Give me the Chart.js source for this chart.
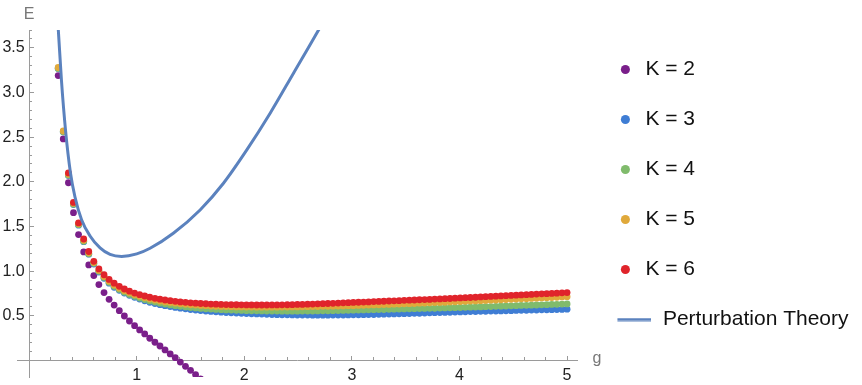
<!DOCTYPE html>
<html>
<head>
<meta charset="utf-8">
<script src="https://cdn.jsdelivr.net/npm/chart.js@4.4.1/dist/chart.umd.min.js"></script>
<style>
  body { margin: 0; background: #fff; }
  canvas { display: block; }
</style>
</head>
<body>
<canvas id="c" width="862" height="385"></canvas>
<script>
// coupling values g (same grid for every K)
const gVals = [
  0.270, 0.317, 0.365, 0.412, 0.459, 0.507, 0.554, 0.601, 0.648, 0.696,
  0.743, 0.790, 0.838, 0.885, 0.932, 0.980, 1.027, 1.074, 1.121, 1.169,
  1.216, 1.263, 1.311, 1.358, 1.405, 1.453, 1.500, 1.547, 1.594, 1.642,
  1.689, 1.736, 1.784, 1.831, 1.878, 1.926, 1.973, 2.020, 2.067, 2.115,
  2.162, 2.209, 2.257, 2.304, 2.351, 2.399, 2.446, 2.493, 2.540, 2.588,
  2.635, 2.682, 2.730, 2.777, 2.824, 2.872, 2.919, 2.966, 3.013, 3.061,
  3.108, 3.155, 3.203, 3.250, 3.297, 3.345, 3.392, 3.439, 3.486, 3.534,
  3.581, 3.628, 3.676, 3.723, 3.770, 3.818, 3.865, 3.912, 3.959, 4.007,
  4.054, 4.101, 4.149, 4.196, 4.243, 4.291, 4.338, 4.385, 4.432, 4.480,
  4.527, 4.574, 4.622, 4.669, 4.716, 4.764, 4.811, 4.858, 4.905, 4.953,
  5.000
];

const eK2 = [
  3.19, 2.48, 1.99, 1.655, 1.41, 1.215, 1.07, 0.95, 0.85, 0.76,
  0.685, 0.62, 0.558, 0.498, 0.442, 0.39, 0.342, 0.297, 0.249, 0.204,
  0.162, 0.118, 0.073, 0.031, -0.018, -0.065, -0.11, -0.158, -0.205
];

const eK3 = [
  3.27, 2.56, 2.07, 1.745, 1.515, 1.33, 1.19, 1.08, 0.99, 0.92,
  0.865, 0.82, 0.785, 0.755, 0.73, 0.707, 0.687, 0.668, 0.652, 0.638,
  0.625, 0.613, 0.603, 0.594, 0.586, 0.578, 0.571, 0.565, 0.559, 0.554,
  0.549, 0.545, 0.541, 0.537, 0.534, 0.531, 0.528, 0.525, 0.523, 0.521,
  0.519, 0.517, 0.515, 0.513, 0.512, 0.511, 0.51, 0.509, 0.508, 0.508,
  0.507, 0.507, 0.507, 0.507, 0.508, 0.508, 0.509, 0.51, 0.511, 0.512,
  0.513, 0.514, 0.515, 0.517, 0.518, 0.52, 0.521, 0.523, 0.524, 0.526,
  0.528, 0.529, 0.531, 0.533, 0.535, 0.537, 0.538, 0.54, 0.542, 0.544,
  0.545, 0.547, 0.548, 0.55, 0.551, 0.553, 0.554, 0.555, 0.557, 0.558,
  0.56, 0.561, 0.562, 0.564, 0.565, 0.567, 0.568, 0.569, 0.571, 0.572,
  0.574
];

const eK4 = [
  3.27, 2.56, 2.075, 1.75, 1.52, 1.335, 1.195, 1.088, 0.998, 0.93,
  0.875, 0.83, 0.795, 0.765, 0.74, 0.718, 0.699, 0.682, 0.667, 0.654,
  0.642, 0.631, 0.622, 0.613, 0.606, 0.599, 0.593, 0.588, 0.583, 0.579,
  0.575, 0.572, 0.569, 0.566, 0.564, 0.562, 0.56, 0.558, 0.557, 0.556,
  0.555, 0.554, 0.553, 0.553, 0.552, 0.552, 0.552, 0.552, 0.553, 0.553,
  0.554, 0.555, 0.556, 0.557, 0.558, 0.559, 0.56, 0.562, 0.563, 0.564,
  0.566, 0.567, 0.569, 0.57, 0.571, 0.573, 0.574, 0.576, 0.577, 0.578,
  0.58, 0.581, 0.583, 0.584, 0.585, 0.587, 0.588, 0.59, 0.591, 0.593,
  0.595, 0.597, 0.598, 0.6, 0.602, 0.604, 0.606, 0.608, 0.61, 0.612,
  0.614, 0.616, 0.618, 0.619, 0.621, 0.623, 0.625, 0.627, 0.629, 0.631,
  0.633
];

const eK5 = [
  3.28, 2.57, 2.085, 1.76, 1.53, 1.345, 1.205, 1.097, 1.008, 0.94,
  0.888, 0.845, 0.81, 0.781, 0.757, 0.736, 0.718, 0.702, 0.688, 0.676,
  0.665, 0.656, 0.648, 0.641, 0.635, 0.629, 0.624, 0.62, 0.616, 0.613,
  0.61, 0.607, 0.605, 0.603, 0.602, 0.6, 0.599, 0.598, 0.598, 0.597,
  0.597, 0.597, 0.597, 0.597, 0.598, 0.598, 0.599, 0.6, 0.601, 0.602,
  0.603, 0.604, 0.606, 0.607, 0.608, 0.61, 0.611, 0.613, 0.614, 0.616,
  0.618, 0.62, 0.622, 0.624, 0.626, 0.628, 0.63, 0.632, 0.634, 0.636,
  0.638, 0.641, 0.643, 0.645, 0.648, 0.65, 0.652, 0.655, 0.657, 0.66,
  0.662, 0.665, 0.667, 0.67, 0.672, 0.675, 0.677, 0.68, 0.682, 0.685,
  0.687, 0.69, 0.692, 0.695, 0.698, 0.7, 0.703, 0.705, 0.708, 0.711,
  0.714
];

// K = 6 has no points at the two smallest g
const eK6 = [
  null, null, 2.10, 1.77, 1.54, 1.36, 1.22, 1.11, 1.025, 0.96,
  0.908, 0.865, 0.83, 0.8, 0.776, 0.755, 0.737, 0.722, 0.708, 0.696,
  0.686, 0.677, 0.669, 0.662, 0.656, 0.651, 0.646, 0.642, 0.638, 0.635,
  0.632, 0.63, 0.628, 0.626, 0.625, 0.624, 0.623, 0.622, 0.622, 0.621,
  0.621, 0.621, 0.622, 0.622, 0.623, 0.624, 0.625, 0.627, 0.628, 0.63,
  0.632, 0.634, 0.636, 0.638, 0.64, 0.643, 0.645, 0.647, 0.65, 0.652,
  0.654, 0.656, 0.659, 0.661, 0.663, 0.666, 0.668, 0.67, 0.673, 0.675,
  0.677, 0.68, 0.682, 0.684, 0.687, 0.689, 0.692, 0.694, 0.697, 0.7,
  0.703, 0.705, 0.708, 0.711, 0.714, 0.717, 0.72, 0.723, 0.725, 0.728,
  0.731, 0.734, 0.737, 0.74, 0.743, 0.746, 0.748, 0.751, 0.754, 0.757,
  0.76
];

// perturbation theory curve
const ptG = [0.262, 0.271, 0.300, 0.338, 0.384, 0.426, 0.488, 0.566, 0.659, 0.752,
             0.860, 1.000, 1.124, 1.340, 1.589, 1.806, 2.023, 2.240, 2.457, 2.690, 2.750];
const ptE = [3.86, 3.70, 3.14, 2.58, 2.10, 1.83, 1.573, 1.394, 1.26, 1.187,
             1.165, 1.193, 1.256, 1.424, 1.685, 1.984, 2.357, 2.768, 3.216, 3.70, 3.83];

const kLabels = ["K = 2", "K = 3", "K = 4", "K = 5", "K = 6"];
const kSeries = [eK2, eK3, eK4, eK5, eK6];
const kColors = ["#7a1f8a", "#3f7dd4", "#80bb6c", "#e0a93b", "#e0242b"];
const ptColor = "#5b82be";
const axisColor = "#9a9a9a";
const FONT = "'Liberation Sans', Arial, sans-serif";

function pairs(xs, ys) {
  const out = [];
  ys.forEach((y, i) => {
    if (y !== null && y !== undefined) out.push({ x: xs[i], y: y });
  });
  return out;
}

const datasets = kSeries.map((vals, i) => ({
  label: kLabels[i],
  data: pairs(gVals, vals),
  backgroundColor: kColors[i],
  borderColor: kColors[i],
  pointRadius: 3.4,
  pointBorderWidth: 0,
  pointHoverRadius: 3.4,
  showLine: false,
  clip: 0,
  order: 5 - i,
}));

datasets.push({
  label: "Perturbation Theory",
  data: pairs(ptG, ptE),
  borderColor: ptColor,
  backgroundColor: ptColor,
  borderWidth: 3,
  pointRadius: 0,
  showLine: true,
  cubicInterpolationMode: "monotone",
  clip: 0,
  order: 0,
});

// legend icon for the line entry
const lineIcon = document.createElement("canvas");
lineIcon.width = 52;
lineIcon.height = 4;
(function () {
  const c = lineIcon.getContext("2d");
  c.strokeStyle = ptColor;
  c.lineWidth = 3;
  c.beginPath();
  c.moveTo(18, 2);
  c.lineTo(52, 2);
  c.stroke();
})();

function dropZero(scale) {
  scale.ticks = scale.ticks.filter((t) => t.value > 1e-9);
}
function noPad(scale) {
  scale.paddingLeft = scale.paddingRight = scale.paddingTop = scale.paddingBottom = 0;
}

const axisNames = {
  id: "axisNames",
  afterDraw(chart) {
    const { ctx, scales, chartArea } = chart;
    ctx.save();
    ctx.font = "16px " + FONT;
    ctx.fillStyle = "#777";
    ctx.textBaseline = "alphabetic";
    ctx.textAlign = "center";
    ctx.fillText("E", scales.x.getPixelForValue(0), 18.5);
    ctx.textAlign = "left";
    ctx.fillText("g", chartArea.right + 15, scales.y.getPixelForValue(0) + 2.5);
    ctx.restore();
  },
};

new Chart(document.getElementById("c"), {
  type: "scatter",
  data: { datasets },
  options: {
    responsive: false,
    animation: false,
    devicePixelRatio: 1,
    layout: { padding: { left: 17, top: 30, bottom: 8, right: 3.5 } },
    scales: {
      x: {
        type: "linear",
        position: { y: 0 },
        min: -0.113,
        max: 5.096,
        afterBuildTicks: dropZero,
        afterFit: noPad,
        ticks: {
          stepSize: 1,
          includeBounds: false,
          padding: 11,
          color: "#222",
          font: { family: FONT, size: 16 },
        },
        grid: { drawOnChartArea: false, tickLength: -5, tickColor: axisColor },
        border: { color: axisColor, width: 1 },
      },
      xMinor: {
        type: "linear",
        axis: "x",
        position: { y: 0 },
        min: -0.113,
        max: 5.096,
        afterBuildTicks: dropZero,
        afterFit: noPad,
        ticks: { stepSize: 0.2, includeBounds: false, display: false },
        grid: { drawOnChartArea: false, tickLength: -3, tickColor: axisColor },
        border: { display: false },
      },
      y: {
        type: "linear",
        position: { x: 0 },
        min: -0.185,
        max: 3.7,
        afterBuildTicks: dropZero,
        afterFit: noPad,
        ticks: {
          stepSize: 0.5,
          includeBounds: false,
          color: "#222",
          font: { family: FONT, size: 16 },
          // the centred axis ignores tick padding, so keep a space after the number
          callback: (v) => v.toFixed(1) + " ",
        },
        grid: { drawOnChartArea: false, tickLength: -5, tickColor: axisColor },
        border: { color: axisColor, width: 1 },
      },
      yMinor: {
        type: "linear",
        axis: "y",
        position: { x: 0 },
        min: -0.185,
        max: 3.7,
        afterBuildTicks: dropZero,
        afterFit: noPad,
        ticks: { stepSize: 0.1, includeBounds: false, display: false },
        grid: { drawOnChartArea: false, tickLength: -3, tickColor: axisColor },
        border: { display: false },
      },
      spacer: {
        type: "linear",
        axis: "y",
        position: "right",
        display: true,
        ticks: { display: false },
        grid: { display: false },
        border: { display: false },
        afterFit: (s) => { s.width = 9.5; },
      },
    },
    plugins: {
      tooltip: { enabled: false },
      legend: {
        position: "right",
        align: "start",
        maxWidth: 400,
        labels: {
          usePointStyle: true,
          boxWidth: 19,
          boxHeight: 6.4,
          padding: 29,
          color: "#111",
          font: { family: FONT, size: 21 },
          sort: (a, b) => a.datasetIndex - b.datasetIndex,
          generateLabels(chart) {
            const items = Chart.defaults.plugins.legend.labels.generateLabels(chart);
            items.forEach((it) => {
              it.lineWidth = 0;
              if (it.datasetIndex === 5) {
                it.pointStyle = lineIcon;
                it.text = "   Perturbation Theory";
              } else {
                it.pointStyle = "circle";
              }
            });
            return items;
          },
        },
      },
    },
  },
  plugins: [axisNames],
});
</script>
</body>
</html>
